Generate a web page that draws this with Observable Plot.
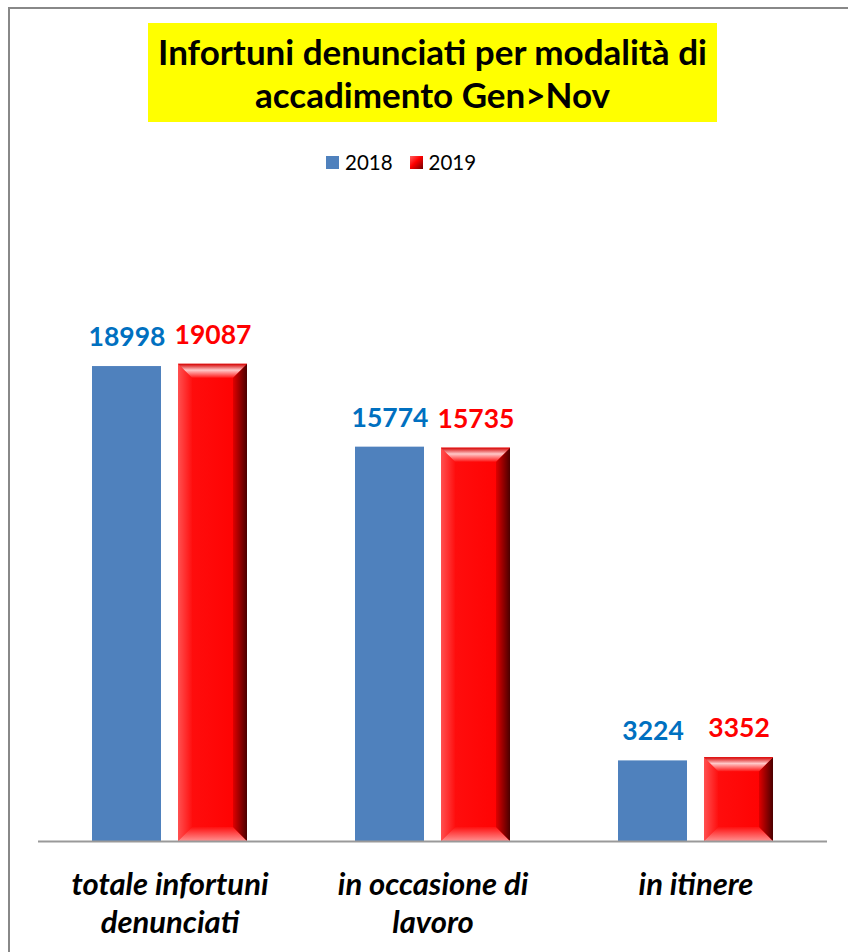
<!DOCTYPE html>
<html>
<head>
<meta charset="utf-8">
<script src="https://cdn.jsdelivr.net/npm/d3@7"></script>
<script src="https://cdn.jsdelivr.net/npm/@observablehq/plot@0.6"></script>
<style>
  html, body { margin: 0; padding: 0; background: #fff; }
  body { width: 848px; height: 952px; position: relative; overflow: hidden; font-family: Lato, "Open Sans", sans-serif; }
  #frame { position: absolute; left: 8px; top: 7px; width: 860px; height: 960px; border-left: 2px solid #888; border-top: 2px solid #888; }
  #title { position: absolute; left: 148px; top: 23px; width: 569px; height: 99px; background: #ffff00;
           display: flex; align-items: center; justify-content: center; text-align: center;
           font-weight: 700; font-size: 35px; line-height: 43px; color: #000; white-space: nowrap; }
  #legend { position: absolute; top: 148px; left: 326px; white-space: nowrap; font-size: 20.5px; line-height: 28px; color: #000; display: flex; align-items: center; }
  #legend span.item { display: inline-flex; align-items: center; margin-right: 17px; }
  #legend span.sw { display: inline-block; width: 13px; height: 13px; margin-right: 6px; }
  #chart { position: absolute; left: 0; top: 190px; }
</style>
</head>
<body>
<div id="frame"></div>
<div id="title">Infortuni denunciati per modalità di<br>accadimento Gen&gt;Nov</div>
<div id="legend"></div>
<div id="chart"></div>
<script>
const categories = ["totale infortuni denunciati", "in occasione di lavoro", "in itinere"];
const categoryLabels = ["totale infortuni\ndenunciati", "in occasione di\nlavoro", "in itinere"];
const years = ["2018", "2019"];
const values2018 = [18998, 15774, 3224];
const values2019 = [19087, 15735, 3352];
const yearColors = ["#4F81BD", "#FF0000"];
const labelColors = ["#0070C0", "#FF0000"];

const data = [];
categories.forEach((c, i) => {
  data.push({category: c, year: years[0], value: values2018[i]});
  data.push({category: c, year: years[1], value: values2019[i]});
});
const labelOf = new Map(categories.map((c, i) => [c, categoryLabels[i]]));

// legend
const legend = d3.select("#legend");
years.forEach((y, i) => {
  const it = legend.append("span").attr("class", "item");
  const sw = it.append("span").attr("class", "sw");
  if (i === 0) sw.style("background", yearColors[0]);
  else sw.style("background", "linear-gradient(135deg, #ff6060 0%, #ff0000 45%, #700000 100%)");
  it.append("span").text(y);
});

const plot = Plot.plot({
  width: 848,
  height: 762,
  marginLeft: 37,
  marginRight: 21,
  marginTop: 151,
  marginBottom: 111,
  style: {fontFamily: "Lato, 'Open Sans', sans-serif", background: "transparent"},
  fx: {domain: categories, paddingInner: 0, paddingOuter: 0, axis: null},
  x: {domain: years, paddingInner: 0.195, paddingOuter: 0.61, axis: null},
  y: {domain: [0, 20000], axis: null},
  color: {domain: years, range: yearColors},
  marks: [
    () => {
      const svg = d3.create("svg:defs");
      const g1 = svg.append("linearGradient").attr("id", "redBody").attr("x1", 0).attr("x2", 1).attr("y1", 0).attr("y2", 0);
      g1.append("stop").attr("offset", "0%").attr("stop-color", "#ff1010");
      g1.append("stop").attr("offset", "100%").attr("stop-color", "#ff0000");
      const gt = svg.append("linearGradient").attr("id", "bevTop").attr("x1", 0).attr("x2", 0).attr("y1", 0).attr("y2", 1);
      gt.append("stop").attr("offset", "0%").attr("stop-color", "#d40000");
      gt.append("stop").attr("offset", "45%").attr("stop-color", "#ffc8c8");
      gt.append("stop").attr("offset", "100%").attr("stop-color", "#ff1a1a");
      const gr = svg.append("linearGradient").attr("id", "bevRight").attr("x1", 0).attr("x2", 1).attr("y1", 0).attr("y2", 0);
      gr.append("stop").attr("offset", "0%").attr("stop-color", "#e00000");
      gr.append("stop").attr("offset", "100%").attr("stop-color", "#4a0000");
      const gb = svg.append("linearGradient").attr("id", "bevBottom").attr("x1", 0).attr("x2", 0).attr("y1", 0).attr("y2", 1);
      gb.append("stop").attr("offset", "0%").attr("stop-color", "#ff1010");
      gb.append("stop").attr("offset", "100%").attr("stop-color", "#ff9090");
      const gl = svg.append("linearGradient").attr("id", "bevLeft").attr("x1", 0).attr("x2", 1).attr("y1", 0).attr("y2", 0);
      gl.append("stop").attr("offset", "0%").attr("stop-color", "#ff5050");
      gl.append("stop").attr("offset", "100%").attr("stop-color", "#ff1010");
      return svg.node();
    },
    Plot.barY(data.filter(d => d.year === years[0]), {fx: "category", x: "year", y: "value", fill: yearColors[0]}),
    Plot.barY(data.filter(d => d.year === years[1]), {fx: "category", x: "year", y: "value", fill: "url(#redBody)", className: "bars2019"}),
    Plot.ruleY([0], {stroke: "#999", strokeWidth: 2}),
    Plot.text(data, {fx: "category", x: "year", y: "value", text: d => String(d.value), dy: -29,
      fill: d => d.year === years[0] ? labelColors[0] : labelColors[1],
      fontSize: 26.5, fontWeight: 700, lineAnchor: "middle"}),
    Plot.text(categories, {fx: d => d, text: d => labelOf.get(d), frameAnchor: "bottom", dy: 26,
      lineAnchor: "top", lineHeight: 1.23, fontSize: 31, fontWeight: 700, fontStyle: "italic", fill: "#000"})
  ]
});

// bevel decoration on the 2019 bars, computed from the rendered rects
d3.select(plot).selectAll(".bars2019 rect").each(function() {
  const r = d3.select(this);
  const x = +r.attr("x"), y = +r.attr("y"), w = +r.attr("width"), h = +r.attr("height");
  const b = Math.min(14, h / 3);
  const p = d3.select(this.parentNode);
  const poly = (pts, fill) => p.append("polygon").attr("points", pts.map(q => q.join(",")).join(" ")).attr("fill", fill);
  poly([[x, y], [x + b, y + b], [x + b, y + h - b], [x, y + h]], "url(#bevLeft)");
  poly([[x, y + h], [x + w, y + h], [x + w - b, y + h - b], [x + b, y + h - b]], "url(#bevBottom)");
  poly([[x + w, y], [x + w, y + h], [x + w - b, y + h - b], [x + w - b, y + b]], "url(#bevRight)");
  poly([[x, y], [x + w, y], [x + w - b, y + b], [x + b, y + b]], "url(#bevTop)");
});

document.getElementById("chart").appendChild(plot);
</script>
</body>
</html>
